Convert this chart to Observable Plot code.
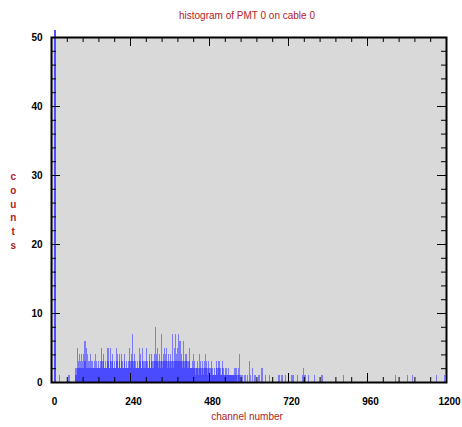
<!DOCTYPE html>
<html>
<head>
<meta charset="utf-8">
<script src="https://cdn.jsdelivr.net/npm/d3@7"></script>
<script src="https://cdn.jsdelivr.net/npm/@observablehq/plot@0.6"></script>
<style>
  html, body { margin: 0; padding: 0; background: #ffffff; }
  #chart { width: 462px; height: 427px; }
</style>
</head>
<body>
<div id="chart"></div>
<script>
// ---- Data ----
const title = "histogram of PMT 0 on cable 0";
const xLabel = "channel number";
const yLabel = "counts";

const xTicksMajor = [0, 240, 480, 720, 960, 1200];
const xTicksMinor = [48, 96, 144, 192, 288, 336, 384, 432, 528, 576, 624, 672, 768, 816, 864, 912, 1008, 1056, 1104, 1152];
const yTicksMajor = [0, 10, 20, 30, 40, 50];
const yTicksMinor = [2, 4, 6, 8, 12, 14, 16, 18, 22, 24, 26, 28, 32, 34, 36, 38, 42, 44, 46, 48];

// pedestal spike
const pedestalChannel = 12;
const pedestalCount = 51;

// dense region: bins of 3 channels starting at channel 70
const denseStart = 70;
const denseBinWidth = 3;
const densePeak = [
  2,2,2,5,3,4,3,4,3,4,6,6,5,4,3,3,4,3,3,2,3,4,3,2,
  3,2,3,5,3,4,2,3,2,5,5,2,5,
  3,
  4,2,3,2,5,4,2,4,2,4,3,2,4,2,3,2,3,5,3,4,7,3,4,3,2,3,2,5,4,2,5,3,3,
  3,5,3,2,4,2,4,3,3,4,8,3,4,5,3,4,3,7,3,4,5,4,5,3,4,3,4,
  3,
  7,3,5,7,4,5,7,6,6,4,3,6,3,4,4,3,3,5,2,
  2,3,4,3,2,2,3,2,4,3,2,3,2,3,4,3,2,3,2,2,3,2,1,2,1,3,2,3,3,2,1,3,2,1,2,2,1,2,1,1,
  1,
  1,1,2,2,1,2,
  1,2,4,1,1,1,0,1,1,0,1,0,3,1,0,2,0,1,1,0,0,1,1,0,2,2,0
];
const denseBase = [
  1,1,1,2,2,2,2,2,2,2,3,3,2,2,2,2,2,2,2,2,2,2,2,2,
  2,2,2,3,2,3,2,2,2,3,3,2,3,
  2,
  3,2,2,2,3,3,2,3,2,3,2,2,3,2,2,2,2,3,2,3,3,2,3,2,2,2,2,3,3,2,3,2,2,
  2,3,2,2,3,2,3,2,2,3,3,2,3,3,2,3,2,3,2,3,3,3,3,2,3,2,3,
  2,
  3,2,3,3,3,3,3,3,3,3,2,3,2,3,3,2,2,3,2,
  2,2,2,2,1,2,2,1,2,2,1,2,1,2,2,2,1,2,1,1,2,1,1,1,1,2,1,2,2,1,1,2,1,1,1,1,1,1,1,1,
  1,
  1,1,1,1,1,1,
  0,1,1,0,0,0,0,0,0,0,0,0,0,0,0,0,0,0,0,0,0,0,0,0,0,0,0
];

// isolated single channels outside the dense region
const sparseChannels = [24, 51, 54, 651, 663, 690, 693, 699, 702, 711, 730, 733, 736, 748, 763, 766, 769, 772, 781, 800, 821, 824, 888, 961, 1046, 1080, 1098, 1171, 1195];
const sparseCounts   = [1, 1, 1, 1, 1, 1, 1, 1, 1, 1, 1, 1, 1, 1, 1, 2, 1, 1, 1, 1, 1, 1, 1, 1, 1, 1, 1, 1, 1];

// ---- Build tables ----
const dense = densePeak.map((p, i) => ({
  c: denseStart + (i + 0.5) * denseBinWidth,
  peak: p,
  base: denseBase[i]
}));
const sparse = sparseChannels.map((c, i) => ({c: c, n: sparseCounts[i]}));
const pedestal = [{c: pedestalChannel, n: pedestalCount}];

// ---- Layout ----
const W = 462, H = 427;
const mL = 51, mR = 16, mT = 37, mB = 45;
const fw = W - mL - mR, fh = H - mT - mB;
const majorLen = 9, minorLen = 5;
const red = "#b22222";
const font = "'Liberation Sans', Arial, Helvetica, sans-serif";
const crisp = {shapeRendering: "crispEdges"};

const chart = Plot.plot({
  width: W,
  height: H,
  marginLeft: mL, marginRight: mR, marginTop: mT, marginBottom: mB,
  style: {fontFamily: font, fontSize: "10px", background: "#ffffff", color: "black"},
  x: {domain: [0, 1200], axis: null},
  y: {domain: [0, 50], axis: null},
  marks: [
    Plot.frame({fill: "#d9d9d9", stroke: "none"}),
    // histogram
    Plot.ruleX(dense.filter(d => d.peak > 0), {x: "c", y1: 0, y2: "peak", stroke: "#7c7cfa", strokeWidth: 1, ...crisp}),
    Plot.ruleX(dense.filter(d => d.base > 0), {x: "c", y1: 0, y2: "base", stroke: "#4a4aff", strokeWidth: 1, ...crisp}),
    Plot.ruleX(sparse, {x: "c", y1: 0, y2: "n", stroke: "#7a7afc", strokeWidth: 1, ...crisp}),
    Plot.ruleX(pedestal, {x: "c", y1: 0, y2: "n", stroke: "#4f4fff", strokeWidth: 2, ...crisp}),
    // inward ticks: bottom
    Plot.ruleX(xTicksMajor, {x: d => d, insetTop: fh - majorLen, stroke: "black"}),
    Plot.ruleX(xTicksMinor, {x: d => d, insetTop: fh - minorLen, stroke: "black"}),
    // top
    Plot.ruleX(xTicksMajor, {x: d => d, insetBottom: fh - majorLen, stroke: "black"}),
    Plot.ruleX(xTicksMinor, {x: d => d, insetBottom: fh - minorLen, stroke: "black"}),
    // left
    Plot.ruleY(yTicksMajor, {y: d => d, insetRight: fw - majorLen, stroke: "black"}),
    Plot.ruleY(yTicksMinor, {y: d => d, insetRight: fw - minorLen, stroke: "black"}),
    // right
    Plot.ruleY(yTicksMajor, {y: d => d, insetLeft: fw - majorLen, stroke: "black"}),
    Plot.ruleY(yTicksMinor, {y: d => d, insetLeft: fw - minorLen, stroke: "black"}),
    Plot.frame({stroke: "black", strokeWidth: 2}),
    // axes labels
    Plot.axisX({ticks: xTicksMajor, tickSize: 0, tickPadding: 15, dx: 3, fontWeight: "bold", fontSize: 10, tickFormat: d => String(d), label: null}),
    Plot.axisY({ticks: yTicksMajor, tickSize: 0, tickPadding: 9, fontWeight: "bold", fontSize: 10, tickFormat: d => String(d), label: null}),
    Plot.text([title], {frameAnchor: "top", dy: -26, dx: -2, fill: red, fontSize: 10, text: d => d}),
    Plot.text([xLabel], {frameAnchor: "bottom", dy: 37, dx: -2, fill: red, fontSize: 10, text: d => d}),
    Plot.text([yLabel.split("").join("\n")], {frameAnchor: "left", dx: -38.3, fill: red, fontSize: 10, fontWeight: "bold", lineHeight: 1.38, textAnchor: "middle", text: d => d})
  ]
});
document.getElementById("chart").appendChild(chart);
</script>
</body>
</html>
